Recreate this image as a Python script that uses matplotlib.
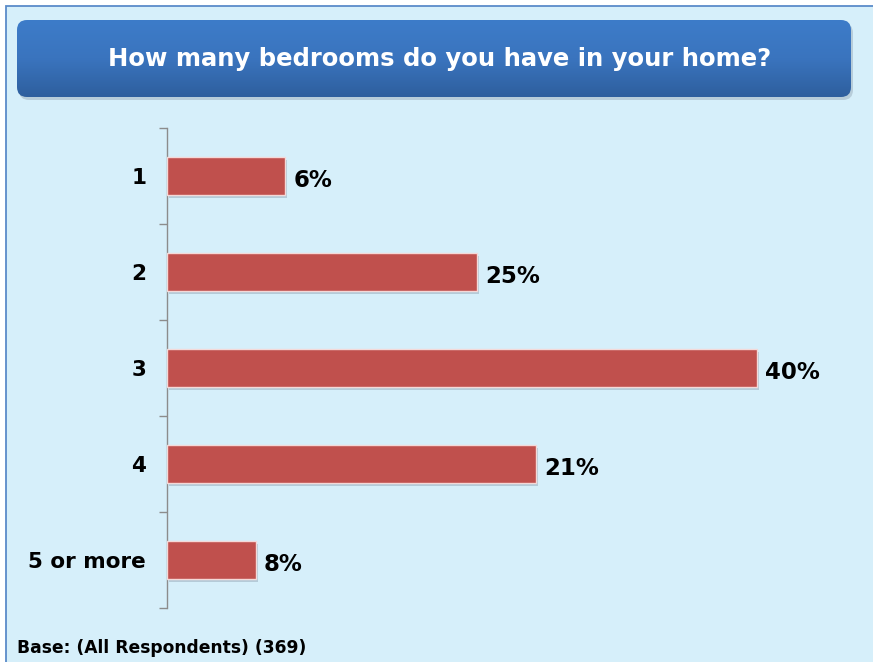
import matplotlib
matplotlib.use("Agg")
import matplotlib.pyplot as plt
import numpy as np
from matplotlib.patches import Rectangle, FancyBboxPatch
from matplotlib.colors import LinearSegmentedColormap
import matplotlib.patheffects as pe

# data (bar lengths as drawn, labels as printed)
categories = ["1", "2", "3", "4", "5 or more"]
bar_lengths = [8, 21, 40, 25, 6]
value_labels = ["6%", "25%", "40%", "21%", "8%"]
title = "How many bedrooms do you have in your home?"
footer = "Base: (All Respondents) (369)"

W, H = 873, 662
bg = "#D6EFFA"
bar_color = "#C0504D"

fig = plt.figure(figsize=(W / 100, H / 100), dpi=100)
fig.patch.set_facecolor("white")

# light blue panel with blue border
fig.patches.append(Rectangle((6 / W, -0.02), 1.0, 1 - 6 / H + 0.02, transform=fig.transFigure,
                             facecolor=bg, edgecolor="#5B8BC9", linewidth=1.3, zorder=-10))

# title box with gradient
tax = fig.add_axes([17 / W, 1 - 97 / H, 834 / W, 77 / H])
tax.set_xlim(0, 834)
tax.set_ylim(0, 77)
tax.axis("off")
shadow = FancyBboxPatch((2, -3), 834, 77, boxstyle="round,pad=0,rounding_size=10",
                        facecolor="#7f8fa0", edgecolor="none", alpha=0.35, clip_on=False, zorder=0)
tax.add_patch(shadow)
cmap = LinearSegmentedColormap.from_list("tb", ["#3D7CC9", "#3A74BE", "#2E5F9E"])
grad = np.linspace(0, 1, 100).reshape(-1, 1)
im = tax.imshow(grad, aspect="auto", cmap=cmap, extent=[0, 834, 0, 77], zorder=1)
box = FancyBboxPatch((0, 0), 834, 77, boxstyle="round,pad=0,rounding_size=10",
                     facecolor="none", edgecolor="none", transform=tax.transData)
tax.add_patch(box)
im.set_clip_path(box)
tax.text(423, 38, title, color="white", fontsize=17.5, fontweight="bold",
         ha="center", va="center", zorder=2)

# main bar chart
ax = fig.add_axes([167 / W, 1 - 608 / H, 590 * 45 / 40 / W, 480 / H])
ax.set_facecolor("none")
y = np.arange(len(categories))
bars = ax.barh(y, bar_lengths, height=0.4, color=bar_color, edgecolor="#F4D9D8", linewidth=1.0,
               zorder=3)
for b in bars:
    b.set_path_effects([pe.SimplePatchShadow(offset=(1.5, -2), shadow_rgbFace="#7a8a99", alpha=0.35),
                        pe.Normal()])
ax.set_xlim(0, 45)
ax.set_ylim(4.5, -0.5)
for s in ["top", "right", "bottom"]:
    ax.spines[s].set_visible(False)
ax.spines["left"].set_color("#8c8c8c")
ax.spines["left"].set_linewidth(1.0)
ax.set_xticks([])
ax.set_yticks(np.arange(-0.5, 5, 1))
ax.set_yticklabels([])
ax.tick_params(axis="y", which="major", length=6, color="#8c8c8c", width=1.0)
ax.set_yticks(y, minor=True)
ax.set_yticklabels(categories, minor=True)
ax.tick_params(axis="y", which="minor", length=0, pad=15, labelsize=15.5)
for t in ax.get_yticklabels(minor=True):
    t.set_fontweight("bold")
    t.set_y(t.get_position()[1])

for i, (v, lab) in enumerate(zip(bar_lengths, value_labels)):
    ax.annotate(lab, xy=(v, i), xytext=(6, -3), textcoords="offset points",
                ha="left", va="center", fontsize=16.5, fontweight="bold", color="black")

fig.text(17 / W, 1 - 648 / H, footer, fontsize=12.3, fontweight="bold", ha="left", va="center")

fig.savefig("out.png", dpi=100, facecolor=fig.get_facecolor())
